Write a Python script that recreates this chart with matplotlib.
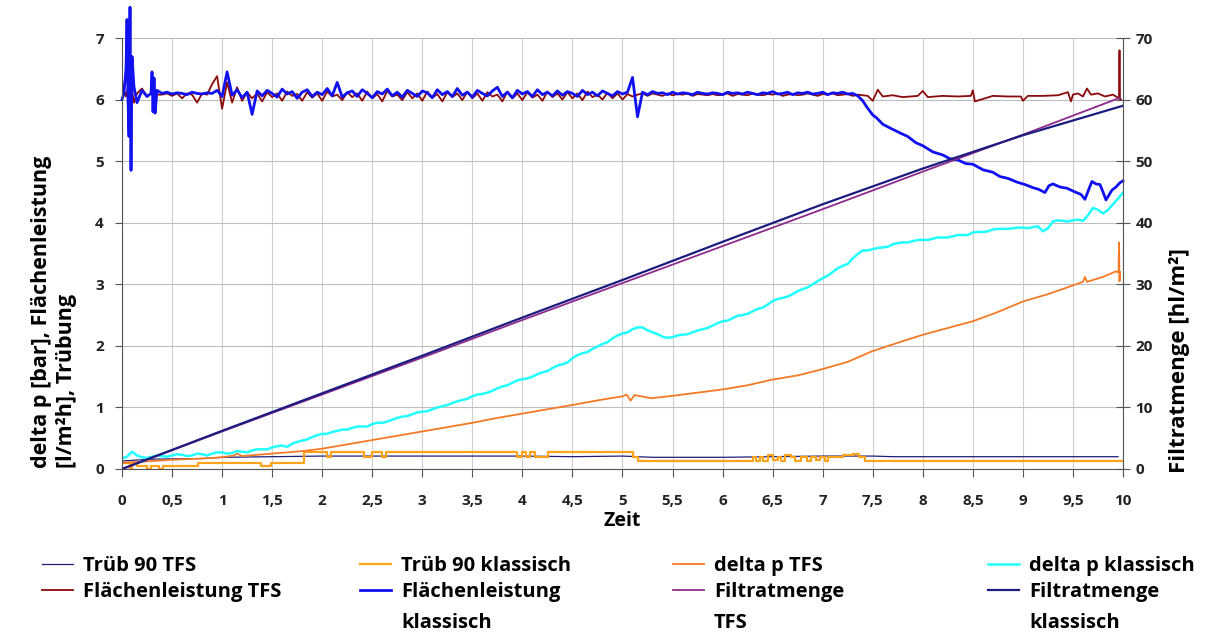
import numpy as np
import matplotlib
matplotlib.use("Agg")
import matplotlib.pyplot as plt

plt.rcParams['font.family'] = ['Open Sans', 'DejaVu Sans']
plt.rcParams['font.weight'] = 'bold'

# ---- data (time in Zeit units) ----

# Trüb 90 TFS
trueb_tfs_t = [0.0, 0.3, 0.8, 1.0, 1.5, 2.0, 2.5, 3.0, 3.5, 4.0, 4.5, 5.0, 5.3, 6.0, 6.5, 7.0, 7.5, 7.7, 8.0, 9.0, 9.95]
trueb_tfs_v = [0.13, 0.16, 0.17, 0.19, 0.2, 0.21, 0.21, 0.21, 0.21, 0.21, 0.2, 0.21, 0.19, 0.19, 0.2, 0.21, 0.21, 0.2, 0.2, 0.2, 0.2]

# Trüb 90 klassisch (step signal)
trueb_kl_t = [0.0, 0.08, 0.1, 0.15, 0.25, 0.29, 0.37, 0.41, 0.76, 1.39, 1.49, 1.82, 2.05, 2.09,
              2.42, 2.5, 2.6, 2.64, 3.95, 4.0, 4.04, 4.08, 4.13, 4.18, 4.26, 5.1, 5.15,
              6.3, 6.33, 6.37, 6.4, 6.45, 6.5, 6.55, 6.58, 6.62, 6.68, 6.72, 6.78, 6.84, 6.88,
              6.93, 6.97, 7.02, 7.05, 7.2, 7.3, 7.36, 7.42, 10.0]
trueb_kl_v = [0.1, 0.0, 0.1, 0.05, 0.0, 0.05, 0.0, 0.05, 0.1, 0.05, 0.1, 0.28, 0.2, 0.28,
              0.2, 0.28, 0.2, 0.28, 0.2, 0.27, 0.2, 0.28, 0.2, 0.2, 0.28, 0.2, 0.13,
              0.2, 0.13, 0.2, 0.13, 0.22, 0.15, 0.2, 0.13, 0.22, 0.2, 0.13, 0.2, 0.13, 0.2,
              0.15, 0.2, 0.13, 0.2, 0.22, 0.25, 0.2, 0.13, 0.13]

# delta p TFS
dp_tfs_t = [0.0, 0.2, 0.5, 0.8, 1.0, 1.12, 1.15, 1.2, 1.5, 1.8, 2.0, 2.25, 2.5, 2.75, 3.0, 3.25,
            3.5, 3.75, 4.0, 4.25, 4.5, 4.77, 5.0, 5.04, 5.08, 5.12, 5.29, 5.51, 5.75, 5.99,
            6.25, 6.49, 6.75, 6.97, 7.25, 7.49, 7.75, 8.0, 8.25, 8.5, 8.75, 9.0, 9.25, 9.48,
            9.6, 9.62, 9.64, 9.8, 9.93, 9.955, 9.96, 9.965, 9.97]
dp_tfs_v = [0.1, 0.12, 0.15, 0.17, 0.19, 0.22, 0.25, 0.21, 0.25, 0.29, 0.33, 0.4, 0.47, 0.54,
            0.61, 0.68, 0.75, 0.83, 0.9, 0.97, 1.04, 1.12, 1.18, 1.21, 1.11, 1.2, 1.15, 1.19,
            1.24, 1.29, 1.36, 1.45, 1.52, 1.61, 1.74, 1.91, 2.05, 2.18, 2.29, 2.4, 2.55, 2.72,
            2.84, 2.97, 3.04, 3.12, 3.04, 3.12, 3.21, 3.19, 3.68, 3.05, 3.2]

# delta p klassisch, read every 0.1 ...
dp_kl_v = [0.17, 0.28, 0.19, 0.2, 0.21, 0.22, 0.23, 0.22, 0.24, 0.25,
           0.27, 0.26, 0.28, 0.3, 0.32, 0.35, 0.38, 0.41, 0.46, 0.52,
           0.57, 0.6, 0.64, 0.67, 0.69, 0.73, 0.75, 0.8, 0.85, 0.89,
           0.93, 0.97, 1.02, 1.07, 1.12, 1.18, 1.22, 1.27, 1.34, 1.4,
           1.46, 1.5, 1.57, 1.64, 1.7, 1.8, 1.88, 1.95, 2.03, 2.12,
           2.2, 2.27, 2.3, 2.22, 2.15, 2.14, 2.18, 2.22, 2.27, 2.33,
           2.4, 2.45, 2.5, 2.56, 2.62, 2.73, 2.78, 2.84, 2.92, 3.0,
           3.1, 3.2, 3.3, 3.42, 3.55, 3.57, 3.6, 3.65, 3.68, 3.7,
           3.72, 3.74, 3.76, 3.78, 3.8, 3.84, 3.85, 3.89, 3.9, 3.91,
           3.92, 3.93, 3.86, 4.02, 4.03, 4.04, 4.03, 4.24, 4.15, 4.3, 4.49]
# ... and at the half steps in between (the jitter)
dp_kl_half_v = [0.2, 0.22, 0.18, 0.22, 0.2, 0.24, 0.21, 0.25, 0.22, 0.27,
                0.25, 0.29, 0.27, 0.32, 0.32, 0.37, 0.36, 0.44, 0.48, 0.55,
                0.57, 0.62, 0.64, 0.69, 0.69, 0.75, 0.77, 0.83, 0.86, 0.92,
                0.94, 1.0, 1.04, 1.1, 1.14, 1.21, 1.24, 1.31, 1.36, 1.44,
                1.47, 1.54, 1.59, 1.68, 1.73, 1.85, 1.9, 1.99, 2.06, 2.17,
                2.22, 2.3, 2.25, 2.19, 2.13, 2.17, 2.19, 2.25, 2.29, 2.37,
                2.41, 2.49, 2.52, 2.6, 2.67, 2.76, 2.8, 2.89, 2.95, 3.05,
                3.14, 3.26, 3.33, 3.49, 3.55, 3.59, 3.61, 3.67, 3.68, 3.72,
                3.72, 3.76, 3.76, 3.8, 3.8, 3.85, 3.86, 3.9, 3.9, 3.92,
                3.91, 3.94, 3.91, 4.04, 4.02, 4.05, 4.12, 4.21, 4.21, 4.39]

# Flächenleistung TFS
fl_tfs_start_t = [0.0, 0.02, 0.04, 0.06, 0.08, 0.1, 0.12, 0.15, 0.2, 0.25, 0.3, 0.35]
fl_tfs_start_v = [6.32, 6.15, 6.05, 6.2, 6.0, 6.15, 5.95, 6.1, 6.18, 6.05, 6.12, 6.08]
fl_tfs_mid_v = [6.08, 6.1, 6.06, 6.1, 6.02, 6.1, 6.08, 5.95, 6.1, 6.08,
                6.25, 6.38, 5.85, 6.28, 5.95, 6.2, 5.98, 6.12, 6.02, 6.1,
                5.97, 6.12, 6.04, 6.1, 5.98, 6.13, 6.06, 6.09, 5.98, 6.12,
                6.03, 6.1, 5.98, 6.13, 6.05, 6.08, 5.99, 6.12, 6.04, 6.1,
                5.98, 6.13, 6.02, 6.09, 5.97, 6.14, 6.05, 6.08, 5.99, 6.12,
                6.02, 6.1, 5.98, 6.13, 6.03, 6.09, 5.97, 6.12, 6.04, 6.1,
                5.99, 6.13, 6.02, 6.1, 5.98, 6.12, 6.05, 6.08, 5.97, 6.13,
                6.02, 6.1, 5.99, 6.12, 6.03, 6.08, 5.98, 6.13, 6.04, 6.1,
                6.0, 6.12, 6.02, 6.1, 5.99, 6.13, 6.04, 6.08, 6.0, 6.11,
                6.02, 6.1, 6.0, 6.09, 6.05, 6.08, 6.1, 6.06, 6.1, 6.08,
                6.06, 6.1, 6.07, 6.09, 6.08, 6.1, 6.06, 6.09, 6.08, 6.07,
                6.09, 6.07, 6.08, 6.1, 6.06, 6.09, 6.08, 6.07, 6.1, 6.08,
                6.07, 6.09, 6.08, 6.1, 6.06, 6.08, 6.09, 6.07, 6.08, 6.1,
                6.08, 6.06, 6.09, 6.08, 6.1, 6.07, 6.08, 6.09, 6.06, 6.08]
fl_tfs_end_t = [7.45, 7.5, 7.55, 7.6, 7.7, 7.8, 7.95, 8.0, 8.05, 8.2, 8.35, 8.48, 8.5, 8.52,
                8.7, 8.85, 8.98, 9.0, 9.05, 9.2, 9.35, 9.45, 9.48, 9.5, 9.55, 9.6, 9.64, 9.68,
                9.75, 9.82, 9.9, 9.96, 9.965, 9.97, 9.98]
fl_tfs_end_v = [6.06, 5.98, 6.16, 6.05, 6.07, 6.04, 6.06, 6.14, 6.04, 6.06, 6.05, 6.06, 6.15, 5.97,
                6.06, 6.05, 6.05, 5.98, 6.06, 6.06, 6.07, 6.12, 5.97, 6.08, 6.1, 6.05, 6.18, 6.08,
                6.1, 6.05, 6.08, 6.02, 6.8, 6.0, 6.0]

# Flächenleistung klassisch
fl_kl_start_t = [0.0, 0.02, 0.04, 0.05, 0.06, 0.07, 0.08, 0.09, 0.1, 0.12, 0.15, 0.2, 0.25,
                 0.29, 0.3, 0.31, 0.32, 0.33, 0.35]
fl_kl_start_v = [6.0, 6.1, 6.5, 7.3, 6.0, 5.4, 7.5, 4.85, 6.7, 6.2, 5.95, 6.15, 6.05,
                 6.1, 6.45, 5.8, 6.35, 5.78, 6.15]
fl_kl_mid_v = [6.1, 6.12, 6.09, 6.11, 6.1, 6.08, 6.12, 6.1, 6.09, 6.11,
               6.1, 6.15, 6.05, 6.45, 6.07, 6.16, 6.03, 6.12, 5.76, 6.14,
               6.06, 6.15, 6.1, 6.04, 6.17, 6.09, 6.13, 6.02, 6.12, 6.16,
               6.05, 6.12, 6.08, 6.18, 6.06, 6.28, 6.04, 6.11, 6.14, 6.05,
               6.16, 6.1, 6.03, 6.13, 6.09, 6.17, 6.06, 6.12, 6.04, 6.15,
               6.1, 6.05, 6.14, 6.11, 6.03, 6.16, 6.08, 6.13, 6.05, 6.18,
               6.07, 6.12, 6.04, 6.15, 6.1, 6.06, 6.14, 6.2, 6.05, 6.12,
               6.03, 6.15, 6.09, 6.13, 6.05, 6.16, 6.08, 6.12, 6.06, 6.14,
               6.07, 6.13, 6.1, 6.05, 6.15, 6.08, 6.12, 6.06, 6.14, 6.1,
               6.06, 6.13, 6.09, 6.12, 6.36, 5.72, 6.12, 6.08, 6.13, 6.1,
               6.11, 6.08, 6.12, 6.09, 6.11, 6.1, 6.08, 6.12, 6.1, 6.09,
               6.11, 6.1, 6.08, 6.12, 6.1, 6.11, 6.09, 6.12, 6.1, 6.08,
               6.11, 6.1, 6.13, 6.09, 6.1, 6.12, 6.08, 6.11, 6.1, 6.12,
               6.09, 6.1, 6.12, 6.08, 6.11, 6.1, 6.12, 6.09, 6.1, 6.06]
fl_kl_end_t = [7.4, 7.44, 7.5, 7.54, 7.6, 7.67, 7.72, 7.77, 7.85, 7.93, 8.0, 8.1, 8.2, 8.27,
               8.35, 8.43, 8.5, 8.6, 8.7, 8.77, 8.85, 8.94, 9.02, 9.1, 9.16, 9.22, 9.26, 9.3,
               9.37, 9.44, 9.52, 9.58, 9.62, 9.66, 9.69, 9.73, 9.77, 9.8, 9.83, 9.86, 9.89,
               9.93, 9.97, 10.0]
fl_kl_end_v = [5.98, 5.88, 5.75, 5.7, 5.6, 5.54, 5.5, 5.46, 5.4, 5.3, 5.25, 5.15, 5.1, 5.04,
               5.02, 4.96, 4.95, 4.86, 4.82, 4.75, 4.72, 4.66, 4.62, 4.57, 4.54, 4.49, 4.6, 4.63,
               4.58, 4.56, 4.5, 4.46, 4.38, 4.55, 4.67, 4.63, 4.62, 4.5, 4.37, 4.45, 4.53,
               4.58, 4.65, 4.68]

# Filtratmenge [hl/m²] (right axis)
filt_tfs_t = [0, 1, 2, 3, 4, 5, 6, 7, 8, 9, 9.97]
filt_tfs_v = [0, 6.1, 12.1, 18.1, 24.2, 30.2, 36.2, 42.2, 48.3, 54.3, 60.3]
filt_kl_t = [0, 1, 2, 3, 4, 5, 6, 7, 8, 9, 10]
filt_kl_v = [0, 6.2, 12.3, 18.4, 24.6, 30.7, 36.9, 43.0, 48.8, 54.2, 59.0]

# interleave full and half steps of delta p klassisch
dp_kl_t = np.round(np.arange(2 * len(dp_kl_v) - 1) * 0.05, 3)
dp_kl_all = np.empty(len(dp_kl_t))
dp_kl_all[0::2] = dp_kl_v
dp_kl_all[1::2] = dp_kl_half_v

mid_t = np.round(0.4 + np.arange(len(fl_kl_mid_v)) * 0.05, 3)
fl_kl_t = np.concatenate([fl_kl_start_t, mid_t, fl_kl_end_t])
fl_kl_v = np.concatenate([fl_kl_start_v, fl_kl_mid_v, fl_kl_end_v])
fl_tfs_t = np.concatenate([fl_tfs_start_t, mid_t, fl_tfs_end_t])
fl_tfs_v = np.concatenate([fl_tfs_start_v, fl_tfs_mid_v, fl_tfs_end_v])

# ---- plot ----
W, H = 1221, 634
fig = plt.figure(figsize=(W / 100, H / 100), dpi=100)
ax = fig.add_axes([122 / W, 1 - 469 / H, 1001 / W, 431 / H])
ax2 = ax.twinx()

l1, = ax.plot(trueb_tfs_t, trueb_tfs_v, color='#1f1f7a', lw=0.9)
l2, = ax.plot(trueb_kl_t, trueb_kl_v, color='#ffa31a', lw=1.6, drawstyle='steps-post')
l3, = ax.plot(dp_tfs_t, dp_tfs_v, color='#f47a25', lw=1.3)
l4, = ax.plot(dp_kl_t, dp_kl_all, color='#22ffff', lw=1.8)
l5, = ax.plot(fl_tfs_t, fl_tfs_v, color='#8b0a0a', lw=1.3)
l6, = ax.plot(fl_kl_t, fl_kl_v, color='#1010f0', lw=2.0, clip_on=False)
l7, = ax2.plot(filt_tfs_t, filt_tfs_v, color='#8e2a8e', lw=1.3)
l8, = ax2.plot(filt_kl_t, filt_kl_v, color='#1c1c80', lw=1.6)

ax.set_xlim(0, 10)
ax.set_ylim(0, 7)
ax2.set_ylim(0, 70)

xt = np.arange(0, 10.01, 0.5)
ax.set_xticks(xt)
ax.set_xticklabels([f"{v:g}".replace('.', ',') for v in xt])
ax.set_yticks(range(0, 8))
ax2.set_yticks(range(0, 71, 10))

ax.grid(True, axis='x', color='#cfcfcf', lw=0.8)
ax.grid(True, axis='y', color='#bdbdbd', lw=0.8)
ax.set_axisbelow(True)

for a in (ax, ax2):
    a.spines['top'].set_visible(False)
    for s in ('left', 'bottom', 'right'):
        a.spines[s].set_color('#555555')
ax.spines['right'].set_visible(False)
ax2.spines['left'].set_visible(False)
ax2.spines['bottom'].set_visible(False)

ax.tick_params(axis='x', direction='out', length=6, color='#555555', labelsize=11,
               labelcolor='#222222', pad=12)
ax.tick_params(axis='y', direction='out', length=5, color='#555555', labelsize=11,
               labelcolor='#222222', pad=8)
ax2.tick_params(axis='y', direction='inout', length=10, color='#555555', labelsize=11,
                labelcolor='#222222', pad=4)

# axis titles (sit low, bottom-aligned like the original)
fig.text(622 / W, 1 - 521 / H, 'Zeit', fontsize=14, fontweight='bold', ha='center', va='center')
fig.text(54 / W, 1 - 468 / H, 'delta p [bar], Flächenleistung\n[l/m²h], Trübung',
         rotation=90, fontsize=15.5, fontweight='bold', ha='center', va='bottom',
         multialignment='left', linespacing=1.3)
fig.text(1179 / W, 1 - 473 / H, 'Filtratmenge [hl/m²]', rotation=90, fontsize=16,
         fontweight='bold', ha='center', va='bottom')

# legend: 4 columns, second line of wrapped labels added as plain text
cols = [(l1, l5, 'Trüb 90 TFS', 'Flächenleistung TFS', None),
        (l2, l6, 'Trüb 90 klassisch', 'Flächenleistung', 'klassisch'),
        (l3, l7, 'delta p TFS', 'Filtratmenge', 'TFS'),
        (l4, l8, 'delta p klassisch', 'Filtratmenge', 'klassisch')]
col_x = [42, 360, 673, 988]
for (ha_, hb_, la, lb, extra), cx in zip(cols, col_x):
    fig.legend(handles=[ha_, hb_], labels=[la, lb], loc='upper left',
               bbox_to_anchor=(cx / W, 1 - 556 / H), frameon=False, fontsize=14.5,
               handlelength=1.55, handletextpad=0.5, labelspacing=0.32,
               borderpad=0, borderaxespad=0)
    if extra:
        fig.text((cx + 41) / W, 1 - 623 / H, extra, fontsize=14.5, fontweight='bold',
                 ha='left', va='center')

fig.savefig('out.png', dpi=100, facecolor='white')
